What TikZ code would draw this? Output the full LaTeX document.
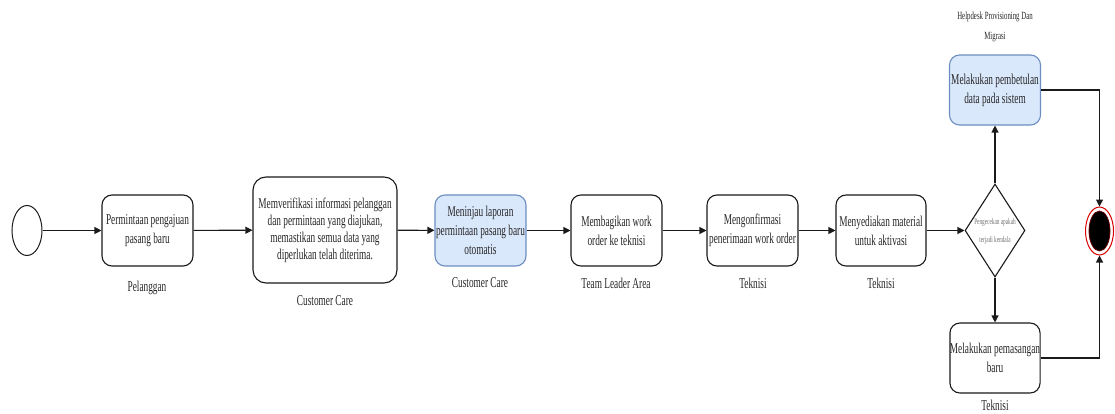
\documentclass[tikz,border=0pt]{standalone}
\usepackage{fontspec}
\usetikzlibrary{shapes.geometric,arrows.meta}
\newfontfamily\nar[FakeStretch=0.62]{Liberation Serif}
\definecolor{bluefill}{HTML}{DAE8FC}
\definecolor{bluestroke}{HTML}{6C8EBF}
\definecolor{edgecol}{HTML}{1A1A1A}
\tikzset{
  act/.style={draw=edgecol, line width=1.1pt, rounded corners=10pt, fill=white,
    minimum width=91pt, minimum height=71pt, inner sep=0pt, align=center,
    font=\nar\fontsize{15}{19}\selectfont, text=black!85},
  actblue/.style={act, fill=bluefill, draw=bluestroke},
  lbl/.style={font=\nar\fontsize{15}{19}\selectfont, text=black!85, inner sep=0pt, align=center},
  flow/.style={draw=edgecol, line width=1.1pt, -{Triangle[length=7pt,width=7pt]}},
}
\begin{document}
\begin{tikzpicture}[x=1pt,y=-1pt]
\useasboundingbox (0,0) rectangle (1115,414);
% start
\node[ellipse, draw=edgecol, line width=1pt, fill=white, minimum width=30pt, minimum height=50pt, inner sep=0pt] (start) at (27,230.5) {};
% activities
\node[act] (b1) at (147.5,230.5) {Permintaan pengajuan\\pasang baru};
\node[lbl] (l1) at (147,288) {Pelanggan};
\node[act, minimum width=144pt, minimum height=106pt, rounded corners=13pt, font=\nar\fontsize{15}{17}\selectfont] (b2) at (325,230) {Memverifikasi informasi pelanggan\\dan permintaan yang diajukan,\\memastikan semua data yang\\diperlukan telah diterima.};
\node[lbl] (l2) at (325,301) {Customer Care};
\node[actblue] (b3) at (480.5,230.5) {Meninjau laporan\\permintaan pasang baru\\otomatis};
\node[lbl] (l3) at (480,283) {Customer Care};
\node[act] (b4) at (616.5,230.5) {Membagikan work\\order ke teknisi};
\node[lbl] (l4) at (616,283) {Team Leader Area};
\node[act] (b5) at (752.5,230.5) {Mengonfirmasi\\penerimaan work order};
\node[lbl] (l5) at (753,283) {Teknisi};
\node[act, minimum width=90pt] (b6) at (881,230.5) {Menyediakan material\\untuk aktivasi};
\node[lbl] (l6) at (881,283) {Teknisi};
% decision
\node[diamond, draw=edgecol, line width=1.1pt, fill=white, minimum width=60pt, minimum height=93pt, inner sep=0pt] (d) at (995,230.5) {};
\node[font=\nar\fontsize{8.5}{18}\selectfont, text=black!55, align=center, inner sep=0pt] (dt) at (995,231) {Pengecekan apakah\\terjadi kendala};
% branches
\node[actblue, minimum width=91pt, minimum height=70pt] (b7) at (995,90) {Melakukan pembetulan\\data pada sistem};
\node[lbl, font=\nar\fontsize{11}{20}\selectfont] (l7) at (995,27) {Helpdesk Provisioning Dan\\Migrasi};
\node[act, minimum width=90pt, minimum height=70pt] (b8) at (995,358) {Melakukan pemasangan\\baru};
\node[lbl] (l8) at (995,405) {Teknisi};
% end
\node[ellipse, draw=red!85!black, line width=1pt, fill=white, minimum width=28pt, minimum height=48pt, inner sep=0pt] (end) at (1099.5,231) {};
\node[ellipse, fill=black, draw=red!40!black, line width=0.8pt, minimum width=21pt, minimum height=40pt, inner sep=0pt] (endin) at (1099.5,231) {};
% connectors
\draw[flow] (start) -- (b1);
\draw[flow] (b1) -- (b2);
\draw[flow] (b2) -- (b3);
\draw[flow] (b3) -- (b4);
\draw[flow] (b4) -- (b5);
\draw[flow] (b5) -- (b6);
\draw[flow] (b6) -- (d.west);
\draw[flow] (d.north) -- (b7.south);
\draw[flow] (d.south) -- (b8.north);
\draw[flow] (b7.east) -| (end.north);
\draw[flow] (b8.east) -| (end.south);
\end{tikzpicture}
\end{document}
